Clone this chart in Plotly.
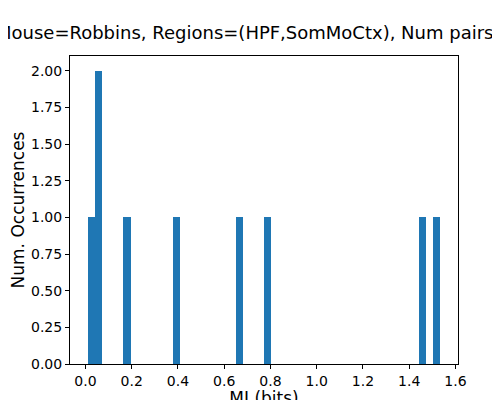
import numpy as np
import plotly.graph_objects as go

# MI values (bits)
mi_values = [0.012, 0.045, 0.055, 0.17, 0.39, 0.665, 0.785, 1.46, 1.535]
n_bins = 50
y_ticks = [0.0, 0.25, 0.5, 0.75, 1.0, 1.25, 1.5, 1.75, 2.0]
x_ticks = [0.0, 0.2, 0.4, 0.6, 0.8, 1.0, 1.2, 1.4, 1.6]

counts, edges = np.histogram(mi_values, bins=n_bins)
centers = (edges[:-1] + edges[1:]) / 2
width = edges[1] - edges[0]

fig = go.Figure(
    go.Bar(x=centers, y=counts, width=width, marker=dict(color="#1f77b4", line=dict(width=0)))
)

axis_common = dict(
    showline=True, linecolor="black", linewidth=1, mirror=True, automargin=False,
    ticks="outside", ticklen=4, tickcolor="black", showgrid=False, zeroline=False,
    tickfont=dict(size=14, color="black"),
)
fig.update_xaxes(range=[-0.067, 1.611], tickvals=x_ticks, tickformat=".1f",
                 title=dict(text="MI (bits)", font=dict(size=17), standoff=2), **axis_common)
fig.update_yaxes(range=[0, 2.1], tickvals=y_ticks, tickformat=".2f",
                 title=dict(text="Num. Occurrences", font=dict(size=17), standoff=4), **axis_common)

fig.update_layout(
    width=500, height=400,
    margin=dict(l=62, r=50, t=48, b=44, autoexpand=False),
    plot_bgcolor="white", paper_bgcolor="white",
    font=dict(family="DejaVu Sans", color="black"),
    title=dict(text="Mouse=Robbins, Regions=(HPF,SomMoCtx), Num pairs=9",
               x=0.5, xanchor="center", y=0.955, font=dict(size=18), automargin=False),
    bargap=0, showlegend=False,
)

fig.write_html("out.html")
